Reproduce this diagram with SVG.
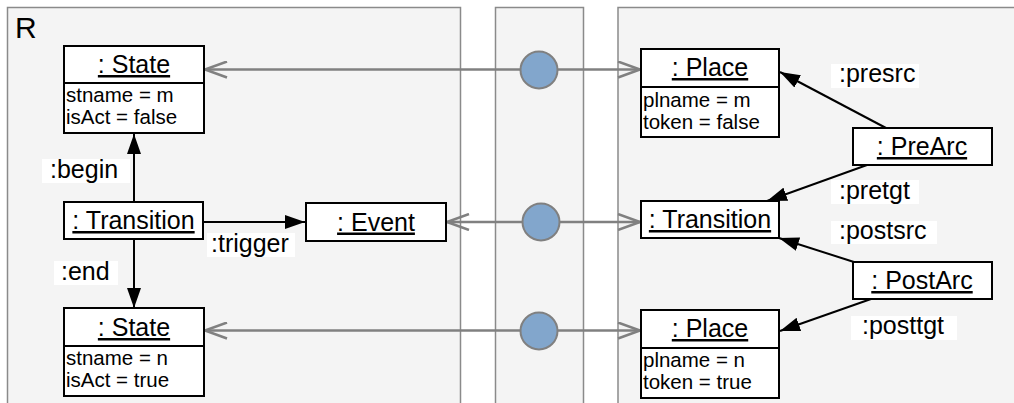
<svg xmlns="http://www.w3.org/2000/svg" width="1014" height="403" viewBox="0 0 1014 403">
<style>
.panel{fill:#f4f4f4;stroke:#8a8a8a;stroke-width:1.5}
.box{fill:#ffffff;stroke:#000;stroke-width:2}
.hd{font-family:"Liberation Sans",Arial,sans-serif;font-size:25px;text-anchor:middle;text-decoration:underline;fill:#000}
.at{font-family:"Liberation Sans",Arial,sans-serif;font-size:20.5px;fill:#000}
.lb{font-family:"Liberation Sans",Arial,sans-serif;font-size:25px;fill:#000}
.lbg{fill:#ffffff;stroke:none}
.gl{stroke:#808080;stroke-width:2.5;fill:none}
.bl{stroke:#000;stroke-width:2;fill:none}
.cir{fill:#82a6cc;stroke:#808080;stroke-width:2}
</style>
<defs>
<marker id="open" markerUnits="userSpaceOnUse" viewBox="0 0 24 18" refX="23" refY="9" markerWidth="24" markerHeight="18" orient="auto-start-reverse">
<path d="M1,1 L23,9 L1,17" fill="none" stroke="#808080" stroke-width="2.5"/>
</marker>
<marker id="fill" markerUnits="userSpaceOnUse" viewBox="0 0 20 14" refX="20" refY="7" markerWidth="20" markerHeight="14" orient="auto">
<path d="M0,0 L20,7 L0,14 Z" fill="#000"/>
</marker>
</defs>
<g id="panels">
<rect class="panel" x="7.5" y="7.5" width="453" height="420"/>
<rect class="panel" x="495.5" y="7.5" width="88" height="420"/>
<rect class="panel" x="618" y="7.5" width="420" height="420"/>
<text x="15" y="38" font-family="Liberation Sans, Arial, sans-serif" font-size="30">R</text>
</g>
<g id="connectors">
<line class="gl" x1="205" y1="69.5" x2="640" y2="69.5" marker-start="url(#open)" marker-end="url(#open)"/>
<line class="gl" x1="447" y1="222" x2="640" y2="222" marker-start="url(#open)" marker-end="url(#open)"/>
<line class="gl" x1="205" y1="330.5" x2="640" y2="330.5" marker-start="url(#open)" marker-end="url(#open)"/>
<line class="bl" x1="134" y1="202" x2="134" y2="134" marker-end="url(#fill)"/>
<line class="bl" x1="134" y1="239" x2="134" y2="308" marker-end="url(#fill)"/>
<line class="bl" x1="203" y1="222" x2="305" y2="222" marker-end="url(#fill)"/>
<line class="bl" x1="886" y1="128" x2="780" y2="72" marker-end="url(#fill)"/>
<line class="bl" x1="867" y1="165" x2="767" y2="201" marker-end="url(#fill)"/>
<line class="bl" x1="854" y1="262" x2="779" y2="238" marker-end="url(#fill)"/>
<line class="bl" x1="871" y1="299" x2="780" y2="331" marker-end="url(#fill)"/>
<rect class="lbg" x="42" y="159" width="88" height="24"/>
<text class="lb" x="50" y="178">:begin</text>
<rect class="lbg" x="207" y="233" width="88" height="24"/>
<text class="lb" x="211" y="251.5">:trigger</text>
<rect class="lbg" x="54" y="261" width="64" height="24"/>
<text class="lb" x="61" y="280">:end</text>
<rect class="lbg" x="831" y="64" width="88" height="24"/>
<text class="lb" x="839" y="82">:presrc</text>
<rect class="lbg" x="831" y="180" width="88" height="24"/>
<text class="lb" x="839" y="198.5">:pretgt</text>
<rect class="lbg" x="831" y="221" width="106" height="23"/>
<text class="lb" x="839" y="238.5">:postsrc</text>
<rect class="lbg" x="851" y="316" width="106" height="24"/>
<text class="lb" x="862" y="334">:posttgt</text>
</g>
<g id="circles">
<circle class="cir" cx="539" cy="70" r="18.5"/>
<circle class="cir" cx="541" cy="222" r="18.5"/>
<circle class="cir" cx="539" cy="331" r="18.5"/>
</g>
<g id="state1">
<rect class="box" x="64" y="46" width="140" height="87"/>
<line class="bl" x1="64" y1="83" x2="204" y2="83"/>
<text class="hd" x="134" y="73">: State</text>
<text class="at" x="66" y="102">stname = m</text>
<text class="at" x="66" y="124">isAct = false</text>
</g>
<g id="transitionL">
<rect class="box" x="64" y="202" width="139" height="37"/>
<text class="hd" x="133.5" y="229">: Transition</text>
</g>
<g id="state2">
<rect class="box" x="64" y="308" width="140" height="88"/>
<line class="bl" x1="64" y1="346" x2="204" y2="346"/>
<text class="hd" x="134" y="336">: State</text>
<text class="at" x="66" y="365">stname = n</text>
<text class="at" x="66" y="387">isAct = true</text>
</g>
<g id="event">
<rect class="box" x="306" y="203" width="140" height="38"/>
<text class="hd" x="376" y="230.5">: Event</text>
</g>
<g id="place1">
<rect class="box" x="641" y="49" width="138" height="88"/>
<line class="bl" x1="641" y1="87" x2="779" y2="87"/>
<text class="hd" x="710" y="76">: Place</text>
<text class="at" x="643" y="107">plname = m</text>
<text class="at" x="643" y="129">token = false</text>
</g>
<g id="transitionR">
<rect class="box" x="641" y="201" width="138" height="37"/>
<text class="hd" x="710" y="228">: Transition</text>
</g>
<g id="place2">
<rect class="box" x="641" y="310" width="138" height="88"/>
<line class="bl" x1="641" y1="348" x2="779" y2="348"/>
<text class="hd" x="710" y="337">: Place</text>
<text class="at" x="643" y="367">plname = n</text>
<text class="at" x="643" y="389">token = true</text>
</g>
<g id="prearc">
<rect class="box" x="853" y="128" width="139" height="37"/>
<text class="hd" x="922" y="155">: PreArc</text>
</g>
<g id="postarc">
<rect class="box" x="853" y="262" width="139" height="37"/>
<text class="hd" x="922" y="289">: PostArc</text>
</g>
</svg>
